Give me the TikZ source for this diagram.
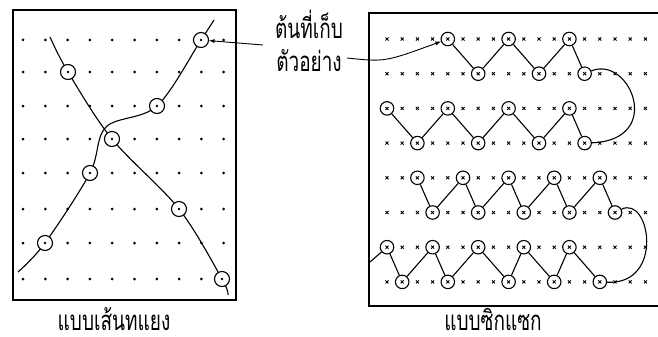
\documentclass[tikz,border=0pt]{standalone}
\usepackage{fontspec}
\newfontfamily\thaifont[Script=Thai]{Loma}
\usetikzlibrary{backgrounds}

\begin{document}
\begin{tikzpicture}[x=1pt, y=-1pt, every node/.style={font=\thaifont\fontsize{19}{22}\selectfont}]
\tikzstyle{frame}=[line width=2.6pt]
\tikzstyle{track}=[line width=1.1pt]
\tikzstyle{caption}=[anchor=base, inner sep=0pt]
\tikzstyle{sample}=[circle, draw, line width=1.1pt, fill=white, minimum size=15pt, inner sep=0pt,
  path picture={\fill[black] (path picture bounding box.center) circle (1.4pt);}]
\tikzstyle{xsample}=[circle, draw, line width=1.1pt, fill=white, minimum size=13.5pt, inner sep=0pt,
  path picture={\draw[black, line width=0.9pt] ([shift={(-1.5pt,-1.5pt)}]path picture bounding box.center) -- ++(3pt,3pt)
    ([shift={(-1.5pt,1.5pt)}]path picture bounding box.center) -- ++(3pt,-3pt);}]
\newcommand\tall[1]{\raisebox{0pt}[\height][0pt]{\scalebox{1}[1.45]{#1}}}
\useasboundingbox (0,0) rectangle (658,337);

% frames
\draw[frame] (13,10) rectangle (236,300);
\draw[frame] (662,13) -- (369,13) -- (369,306) -- (662,306);

% grid of plants
\foreach \c in {0,...,9}
  \foreach \r in {40,72,106,139,173,209,243,279}
    \fill ({23+22.3*\c},\r) circle (1.5);
\foreach \c in {0,...,17}
  \foreach \r in {0,...,7}
    \draw[line width=0.9pt] ({387+15.2*\c-1.5},{39+34.7*\r-1.5}) -- ++(3,3) ++(-3,0) -- ++(3,-3);

% diagonal samples
\node[sample] (l1) at (201,40) {};
\node[sample] (l2) at (68,72) {};
\node[sample] (l3) at (157,106) {};
\node[sample] (l4) at (112,139) {};
\node[sample] (l5) at (90,173) {};
\node[sample] (l6) at (179,209) {};
\node[sample] (l7) at (45,243) {};
\node[sample] (l8) at (222,279) {};
\coordinate (s1) at (50,37);
\coordinate (e1) at (228,295);
\coordinate (s2) at (18,272);
\coordinate (m1) at (106,127);
\coordinate (e2) at (214,20);
\begin{scope}[on background layer]
\draw[track] plot[smooth, tension=0.55] coordinates {(s1) (l2) (l4) (l6) (l8) (e1)};
\draw[track] plot[smooth, tension=0.55] coordinates {(s2) (l7) (l5) (m1) (l3) (l1) (e2)};
\end{scope}

% zigzag samples
\foreach \n/\c/\r in {1/4/0, 2/6/1, 3/8/0, 4/10/1, 5/12/0, 6/13/1, 7/13/3, 8/12/2, 9/10/3, 10/8/2,
    11/6/3, 12/4/2, 13/2/3, 14/0/2}
  \node[xsample] (a\n) at ({387+15.2*\c},{39+34.7*\r}) {};
\foreach \n/\c/\r in {1/2/4, 2/3/5, 3/5/4, 4/6/5, 5/8/4, 6/9/5, 7/11/4, 8/12/5, 9/14/4, 10/15/5,
    11/14/7, 12/12/6, 13/11/7, 14/9/6, 15/8/7, 16/6/6, 17/4/7, 18/3/6, 19/1/7, 20/0/6}
  \node[xsample] (b\n) at ({387+15.2*\c},{39+34.7*\r}) {};
\coordinate (s3) at (370,262);
\draw[track] (a1) -- (a2) -- (a3) -- (a4) -- (a5) -- (a6);
\draw[track] (a6) .. controls (630,55) and (665,140) .. (a7);
\draw[track] (a7) -- (a8) -- (a9) -- (a10) -- (a11) -- (a12) -- (a13) -- (a14);
\draw[track] (b1) -- (b2) -- (b3) -- (b4) -- (b5) -- (b6) -- (b7) -- (b8) -- (b9) -- (b10);
\draw[track] (b10) .. controls (650,195) and (665,285) .. (b11);
\draw[track] (b11) -- (b12) -- (b13) -- (b14) -- (b15) -- (b16) -- (b17) -- (b18) -- (b19) -- (b20) -- (s3);

% labels
\node[caption] (t1) at (309,39) {\tall{ต้นที่เก็บ}};
\node[caption] (t2) at (309,71) {\tall{ตัวอย่าง}};
\node[caption] (n1) at (114,330) {\tall{แบบเส้นทแยง}};
\node[caption] (n2) at (493,330) {\tall{แบบซิกแซก}};
\coordinate (c1) at (263,45);
\coordinate (c2) at (347,58);
\draw[-latex, line width=0.9pt] (c1) -- (l1);
\draw[-latex, line width=0.9pt] (c2) .. controls (385,62) .. (a1);
\end{tikzpicture}
\end{document}
